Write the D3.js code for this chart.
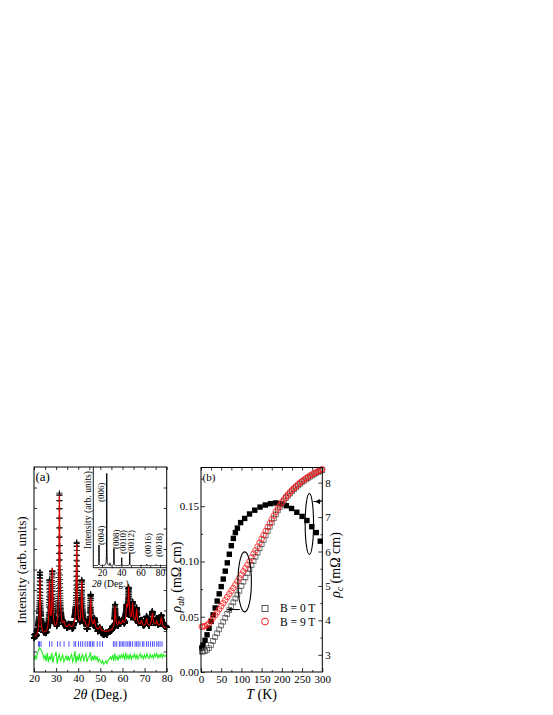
<!DOCTYPE html>
<html><head><meta charset="utf-8">
<script src="https://cdn.jsdelivr.net/npm/d3@7"></script>
<style>
html,body{margin:0;padding:0;background:#fff;}
svg{display:block;}
text{font-family:"Liberation Serif","Times New Roman",serif;fill:#000;}
</style></head><body>
<svg id="chart" width="553" height="715"></svg>
<script>
// ---------- Panel (a): Rietveld pattern ----------
const peakPos    = [22.7, 27.0, 28.3, 31.5, 33.6, 36.0, 39.3, 41.6, 43.0, 45.6, 47.3, 49.8, 56.7, 58.5, 60.0, 61.9, 62.8, 64.6, 66.4, 68.6, 70.9, 73.5, 75.5, 77.6];
const peakHeight = [28, 24, 30, 66, 3, 2, 41.5, 23, 3, 15.5, 5, 2.5, 11, 3, 3, 8, 18, 10.5, 8, 3, 4, 7, 3, 5];
const peakWidth  = [0.2, 0.18, 0.18, 0.18, 0.4, 0.5, 0.2, 0.2, 0.4, 0.22, 0.4, 0.4, 0.25, 0.4, 0.4, 0.28, 0.28, 0.28, 0.28, 0.4, 0.32, 0.32, 0.4, 0.32];
const bgPos = [20, 25, 30, 35, 40, 45, 50, 55, 60, 65, 70, 75, 80];
const bgVal = [16.5, 18, 19, 20, 20, 19.5, 19, 19.5, 20.5, 21, 21, 21, 21];
const diffStart = 20, diffStep = 0.5, diffOffset = 6.8;
const diffVal = [
  5.8, 8.2, 6.0, 9.0, 10.5, 12.0, 11.2, 10.0, 8.6, 6.5,
  8.4, 5.3, 9.4, 4.8, 7.6, 5.9, 9.2, 4.6, 7.3, 8.2,
  9.8, 4.0, 7.1, 8.5, 5.2, 7.0, 8.3, 5.0, 6.4, 7.8,
  5.6, 7.9, 5.4, 7.4, 8.6, 4.9, 6.3, 10.2, 4.3, 8.0,
  5.5, 9.0, 5.1, 7.3, 8.4, 5.2, 7.5, 8.8, 4.9, 7.0,
  7.6, 9.6, 5.3, 7.9, 5.8, 8.1, 6.1, 7.4, 5.0, 6.4,
  5.2, 4.3, 5.5, 3.9, 4.6, 5.4, 4.2, 5.8, 6.2, 7.3,
  6.2, 8.3, 5.4, 9.0, 6.1, 7.6, 5.6, 8.0, 6.7, 8.4,
  7.0, 8.6, 5.8, 9.5, 6.5, 8.0, 6.1, 9.0, 6.3, 7.9,
  7.2, 8.8, 6.6, 8.3, 6.3, 7.6, 9.0, 6.9, 8.1, 6.5,
  8.4, 6.8, 8.9, 7.3, 6.6, 8.6, 7.1, 8.2, 6.7, 8.8,
  7.5, 9.1, 6.6, 8.4, 7.3, 8.9, 7.0, 8.6, 7.6, 8.0,
  7.5];
const braggPos = [22.0, 22.5, 23.2, 27.0, 28.1, 30.6, 31.8, 33.6, 35.8, 38.1, 38.8, 40.1, 41.1, 42.0, 43.1, 44.1, 45.0, 45.6, 46.4, 47.1, 48.6, 49.8, 51.0,
  55.9, 56.6, 57.4, 58.6, 59.3, 60.1, 60.7, 61.6, 62.4, 63.1, 63.7, 64.6, 65.7, 66.4, 67.1, 67.9, 69.1, 69.7, 70.9, 71.7, 72.7, 73.6, 74.4, 75.5, 76.2, 77.0, 77.9];
const xTicksA = [20, 30, 40, 50, 60, 70, 80];

// inset (single crystal 00l)
const inPeakPos    = [16.9, 24.9, 28.3, 32.4, 40.4, 48.7, 66.3, 75.9];
const inPeakHeight = [20.8, 93.4, 2.5, 17.4, 7.9, 12.4, 1.5, 1.0];
const inLabels     = ["(004)", "(006)", "(008)", "(0010)", "(0012)", "(0016)", "(0018)"];
const inTicks = [20, 40, 60, 80];

// ---------- Panel (b): resistivity ----------
const Tc   = [2, 5, 10, 15, 20, 25, 30, 35, 40, 45, 50, 55, 60, 65, 70, 75, 80, 85, 90, 98, 108, 120, 133, 146, 159, 172, 185, 198, 211, 224, 237, 250, 262, 274, 285, 295];
const rhoC = [3.2, 3.28, 3.42, 3.58, 3.77, 3.97, 4.16, 4.36, 4.56, 4.77, 4.98, 5.2, 5.43, 5.67, 5.92, 6.17, 6.38, 6.55, 6.68, 6.84, 6.96, 7.09, 7.2, 7.29, 7.35, 7.39, 7.41, 7.39, 7.33, 7.25, 7.14, 7.02, 6.9, 6.72, 6.55, 6.3];
const Tab = [2, 5, 10, 15, 20, 25, 30, 35, 40, 45, 50, 55, 60, 65, 70, 75, 80, 85, 90, 95, 100, 105, 110, 115, 120, 125, 130, 135, 140, 145, 150,
  155, 160, 165, 170, 175, 180, 185, 190, 195, 200, 205, 210, 215, 220, 225, 230, 235, 240, 245, 250, 255, 260, 265, 270, 275, 280, 285, 290, 295, 300];
const rhoAb0T = [0.0185, 0.0185, 0.019, 0.020, 0.0215, 0.0245, 0.028, 0.0315, 0.035, 0.0385, 0.042, 0.0455, 0.049, 0.0525, 0.056, 0.0595, 0.063, 0.0665, 0.070, 0.0735, 0.078,
  0.0817, 0.0855, 0.0893, 0.093, 0.0968, 0.1005, 0.1043, 0.108, 0.1118, 0.1155, 0.1195, 0.1235, 0.1275, 0.1315, 0.1352, 0.139, 0.1426, 0.1462, 0.1492, 0.1522,
  0.155, 0.1575, 0.1595, 0.1615, 0.1635, 0.1653, 0.167, 0.1687, 0.1702, 0.1717, 0.173, 0.1743, 0.1755, 0.1767, 0.1778, 0.1788, 0.1798, 0.1808, 0.1817, 0.1825];
const rhoAb9T = [0.041, 0.041, 0.0415, 0.0425, 0.044, 0.0465, 0.049, 0.0515, 0.054, 0.0568, 0.0595, 0.0623, 0.065, 0.0678, 0.0705, 0.0733, 0.076, 0.079, 0.082, 0.085, 0.088,
  0.091, 0.094, 0.097, 0.100, 0.1035, 0.107, 0.110, 0.1135, 0.117, 0.1205, 0.124, 0.1275, 0.131, 0.1345, 0.138, 0.1415, 0.145, 0.148, 0.1508, 0.1535,
  0.156, 0.1585, 0.1605, 0.1625, 0.1645, 0.1663, 0.168, 0.1697, 0.1712, 0.1727, 0.174, 0.1753, 0.1765, 0.1777, 0.1788, 0.1798, 0.1808, 0.1818, 0.1827, 0.1835];
const xTicksB = [0, 50, 100, 150, 200, 250, 300];
const yTicksAb = [0, 0.05, 0.10, 0.15];
const yTicksC = [3, 4, 5, 6, 7, 8];
const legendLabels = ["B = 0 T", "B = 9 T"];

// ---------- drawing ----------
const svg = d3.select("#chart");
const FONT = "'Liberation Serif','Times New Roman',serif";

const xA = d3.scaleLinear([20, 80], [34, 166.7]);
const yA = d3.scaleLinear([0, 100], [672, 467]);
const xIn = d3.scaleLinear([11, 87], [93.3, 166.7]);
const yIn = d3.scaleLinear([0, 100], [565.5, 467]);
const xB = d3.scaleLinear([0, 300], [201, 322.3]);
const yB = d3.scaleLinear([0, 0.185], [672, 467.5]);
const yC = d3.scaleLinear([2.5, 8.44], [672, 467.5]);

const bgScale = d3.scaleLinear(bgPos, bgVal).clamp(true);
function calc(t) {
  let v = bgScale(t);
  for (let i = 0; i < peakPos.length; i++) {
    const u = (t - peakPos[i]) / peakWidth[i];
    v += peakHeight[i] * (0.75 / (1 + u * u) + 0.25 / (1 + u * u / 9));
  }
  return v;
}
function residualAt(t) {
  const i = Math.min(diffVal.length - 1, Math.max(0, Math.round((t - diffStart) / diffStep)));
  return (diffVal[i] - diffOffset) * 0.6;
}
const grid = d3.range(20, 80.0001, 0.025);

function styleAxis(g) {
  g.select(".domain").remove();
  g.selectAll(".tick line").attr("stroke", "#000").attr("stroke-width", 0.8);
  g.selectAll(".tick text").attr("font-family", FONT).attr("font-size", 11).attr("fill", "#000");
}

// ----- Panel (a) -----
const gA = svg.append("g");
let cross = "";
grid.forEach(t => {
  const px = xA(t), py = yA(calc(t) + residualAt(t));
  cross += `M${px - 3},${py}h6M${px},${py - 3}v6`;
});
gA.append("path").attr("d", cross).attr("stroke", "#000").attr("stroke-width", 0.9).attr("fill", "none");
gA.append("path").datum(grid)
  .attr("d", d3.line().x(d => xA(d)).y(d => yA(calc(d))))
  .attr("fill", "none").attr("stroke", "#e00000").attr("stroke-width", 1.1);
gA.append("g").selectAll("line").data(braggPos).join("line")
  .attr("x1", d => xA(d)).attr("x2", d => xA(d))
  .attr("y1", yA(12.3)).attr("y2", yA(15.0))
  .attr("stroke", "#3a3aff").attr("stroke-width", 0.9);
gA.append("path").datum(diffVal)
  .attr("d", d3.line().x((d, i) => xA(diffStart + i * diffStep)).y(d => yA(d)))
  .attr("fill", "none").attr("stroke", "#22ee22").attr("stroke-width", 1.1);

// inset
const inX0 = xIn(11), inX1 = xIn(87), inY1 = 567.7, inY0 = 467;
gA.append("rect").attr("x", inX0).attr("y", inY0).attr("width", inX1 - inX0).attr("height", inY1 - inY0).attr("fill", "#fff");
const inGrid = d3.range(11, 87.0001, 0.05);
function inCalc(t) {
  let v = 0;
  for (let i = 0; i < inPeakPos.length; i++) {
    const u = (t - inPeakPos[i]) / 0.12;
    v += inPeakHeight[i] / (1 + u * u);
  }
  return v;
}
gA.append("path").datum(inGrid)
  .attr("d", d3.line().x(d => xIn(d)).y(d => yIn(inCalc(d))))
  .attr("fill", "none").attr("stroke", "#000").attr("stroke-width", 1);
gA.append("line").attr("x1", inX0).attr("x2", inX0).attr("y1", inY0).attr("y2", inY1).attr("stroke", "#000").attr("stroke-width", 0.9);
gA.append("line").attr("x1", inX0).attr("x2", inX1).attr("y1", inY1).attr("y2", inY1).attr("stroke", "#000").attr("stroke-width", 0.9);
const inAx = gA.append("g").attr("transform", `translate(0,${inY1})`)
  .call(d3.axisBottom(xIn).tickValues(inTicks).tickSize(-3).tickPadding(1.5).tickFormat(d3.format("d")));
styleAxis(inAx);
inAx.selectAll(".tick text").attr("font-size", 9.5);
const inAxMinor = gA.append("g").attr("transform", `translate(0,${inY1})`)
  .call(d3.axisBottom(xIn).tickValues([30, 50, 70]).tickSize(-1.8).tickFormat(""));
styleAxis(inAxMinor);
const inLabelX = [104, 104, 118.5, 126, 134, 151, 162];
const inLabelY = [545, 502, 549, 554, 554, 557, 557];
gA.append("g").selectAll("text").data(inLabels).join("text")
  .attr("transform", (d, i) => `translate(${inLabelX[i]},${inLabelY[i]}) rotate(-90)`)
  .attr("font-size", 9).text(d => d);
gA.append("text").attr("transform", `translate(91.3,${(inY0 + 553) / 2}) rotate(-90)`)
  .attr("text-anchor", "middle").attr("font-size", 9.6).text("Intensity (arb. units)");
const inT = gA.append("text").attr("x", 92).attr("y", 586.5).attr("font-size", 9.6);
inT.append("tspan").attr("font-style", "italic").text("2θ");
inT.append("tspan").text(" (Deg.)");

// main frame and axes (a)
gA.append("rect").attr("x", xA(20)).attr("y", yA(100)).attr("width", xA(80) - xA(20)).attr("height", yA(0) - yA(100))
  .attr("fill", "none").attr("stroke", "#000").attr("stroke-width", 1);
const axA = gA.append("g").attr("transform", `translate(0,${yA(0)})`)
  .call(d3.axisBottom(xA).tickValues(xTicksA).tickSize(-4).tickPadding(2.5).tickFormat(d3.format("d")));
styleAxis(axA);
const axAm = gA.append("g").attr("transform", `translate(0,${yA(0)})`)
  .call(d3.axisBottom(xA).tickValues(d3.range(25, 80, 10)).tickSize(-2).tickFormat(""));
styleAxis(axAm);
const axAt = gA.append("g").attr("transform", `translate(0,${yA(100)})`)
  .call(d3.axisTop(xA).tickValues(d3.range(20, 81, 5)).tickSize(-3).tickFormat(""));
styleAxis(axAt);
const axAl = gA.append("g").attr("transform", `translate(${xA(20)},0)`)
  .call(d3.axisLeft(yA).tickValues(d3.range(10, 100, 10)).tickSize(-3).tickFormat(""));
styleAxis(axAl);
const axAr = gA.append("g").attr("transform", `translate(${xA(80)},0)`)
  .call(d3.axisRight(yA).tickValues(d3.range(10, 100, 10)).tickSize(-3).tickFormat(""));
styleAxis(axAr);

gA.append("text").attr("x", 35.5).attr("y", 481).attr("font-size", 13).text("(a)");
gA.append("text").attr("transform", `translate(25.5,570) rotate(-90)`).attr("text-anchor", "middle")
  .attr("font-size", 13.2).text("Intensity (arb. units)");
const tA = gA.append("text").attr("x", (xA(20) + xA(80)) / 2).attr("y", 698.5).attr("text-anchor", "middle").attr("font-size", 14);
tA.append("tspan").attr("font-style", "italic").text("2θ");
tA.append("tspan").text(" (Deg.)");

// ----- Panel (b) -----
const gB = svg.append("g");
gB.append("g").selectAll("rect").data(Tc).join("rect")
  .attr("x", (d) => xB(d) - 2.7).attr("y", (d, i) => yC(rhoC[i]) - 2.7)
  .attr("width", 5.4).attr("height", 5.4).attr("fill", "#000");
gB.append("g").selectAll("rect").data(Tab).join("rect")
  .attr("x", d => xB(d) - 2.4).attr("y", (d, i) => yB(rhoAb0T[i]) - 2.4)
  .attr("width", 4.8).attr("height", 4.8).attr("fill", "none").attr("stroke", "#444").attr("stroke-width", 0.7);
gB.append("g").selectAll("circle").data(Tab).join("circle")
  .attr("cx", d => xB(d)).attr("cy", (d, i) => yB(rhoAb9T[i])).attr("r", 2.8)
  .attr("fill", "none").attr("stroke", "#ff1a1a").attr("stroke-width", 0.8);

// annotations
gB.append("ellipse").attr("cx", xB(108)).attr("cy", yB(0.0815)).attr("rx", 6.7).attr("ry", 30)
  .attr("fill", "none").attr("stroke", "#000").attr("stroke-width", 1.1);
gB.append("line").attr("x1", xB(96)).attr("x2", xB(66)).attr("y1", yB(0.0565)).attr("y2", yB(0.0565))
  .attr("stroke", "#000").attr("stroke-width", 1);
gB.append("path").attr("d", () => { const x = xB(63), y = yB(0.0565); return `M${x},${y}l5,-2v4z`; }).attr("fill", "#000");
gB.append("ellipse").attr("cx", xB(268)).attr("cy", yC(6.8)).attr("rx", 4.2).attr("ry", 30.5)
  .attr("fill", "none").attr("stroke", "#000").attr("stroke-width", 1.1);
gB.append("line").attr("x1", xB(278)).attr("x2", xB(298)).attr("y1", yC(7.45)).attr("y2", yC(7.45))
  .attr("stroke", "#000").attr("stroke-width", 1);
gB.append("path").attr("d", () => { const x = xB(282), y = yC(7.45); return `M${x},${y}l5,-2.6v5.2z`; }).attr("fill", "#000");

// legend
gB.append("rect").attr("x", 262).attr("y", 605.5).attr("width", 6).attr("height", 6)
  .attr("fill", "none").attr("stroke", "#444").attr("stroke-width", 0.9);
gB.append("circle").attr("cx", 265).attr("cy", 621.5).attr("r", 3.4)
  .attr("fill", "none").attr("stroke", "#ff1a1a").attr("stroke-width", 1);
gB.append("g").selectAll("text").data(legendLabels).join("text")
  .attr("x", 280).attr("y", (d, i) => 612.3 + i * 13.2).attr("font-size", 11.5).text(d => d);

// frame and axes (b)
gB.append("rect").attr("x", xB(0)).attr("y", yB(0.185)).attr("width", xB(300) - xB(0)).attr("height", yB(0) - yB(0.185))
  .attr("fill", "none").attr("stroke", "#000").attr("stroke-width", 1);
const axB = gB.append("g").attr("transform", `translate(0,${yB(0)})`)
  .call(d3.axisBottom(xB).tickValues(xTicksB).tickSize(-4).tickPadding(3).tickFormat(d3.format("d")));
styleAxis(axB);
const axBm = gB.append("g").attr("transform", `translate(0,${yB(0)})`)
  .call(d3.axisBottom(xB).tickValues(d3.range(25, 300, 50)).tickSize(-2).tickFormat(""));
styleAxis(axBm);
const axBt = gB.append("g").attr("transform", `translate(0,${yB(0.185)})`)
  .call(d3.axisTop(xB).tickValues(d3.range(0, 301, 25)).tickSize(-3).tickFormat(""));
styleAxis(axBt);
const axBl = gB.append("g").attr("transform", `translate(${xB(0)},0)`)
  .call(d3.axisLeft(yB).tickValues(yTicksAb).tickSize(-4).tickPadding(2).tickFormat(d3.format(".2f")));
styleAxis(axBl);
const axBlm = gB.append("g").attr("transform", `translate(${xB(0)},0)`)
  .call(d3.axisLeft(yB).tickValues([0.025, 0.075, 0.125, 0.175]).tickSize(-2).tickFormat(""));
styleAxis(axBlm);
const axBr = gB.append("g").attr("transform", `translate(${xB(300)},0)`)
  .call(d3.axisRight(yC).tickValues(yTicksC).tickSize(-4).tickPadding(3).tickFormat(d3.format("d")));
styleAxis(axBr);
const axBrm = gB.append("g").attr("transform", `translate(${xB(300)},0)`)
  .call(d3.axisRight(yC).tickValues([3.5, 4.5, 5.5, 6.5, 7.5]).tickSize(-2).tickFormat(""));
styleAxis(axBrm);

gB.append("text").attr("x", 202.5).attr("y", 481).attr("font-size", 11).text("(b)");
const tB = gB.append("text").attr("x", (xB(0) + xB(300)) / 2).attr("y", 698.5).attr("text-anchor", "middle").attr("font-size", 14);
tB.append("tspan").attr("font-style", "italic").text("T");
tB.append("tspan").text(" (K)");
const tL = gB.append("text").attr("transform", "translate(181,577) rotate(-90)").attr("text-anchor", "middle").attr("font-size", 14);
tL.append("tspan").attr("font-style", "italic").text("ρ");
tL.append("tspan").attr("font-style", "italic").attr("font-size", 9.5).attr("dy", 3).text("ab");
tL.append("tspan").attr("dy", -3).text(" (mΩ cm)");
const tR = gB.append("text").attr("transform", "translate(340,565) rotate(-90)").attr("text-anchor", "middle").attr("font-size", 14);
tR.append("tspan").attr("font-style", "italic").text("ρ");
tR.append("tspan").attr("font-style", "italic").attr("font-size", 9.5).attr("dy", 3).text("c");
tR.append("tspan").attr("dy", -3).text(" (mΩ cm)");
</script>
</body></html>
